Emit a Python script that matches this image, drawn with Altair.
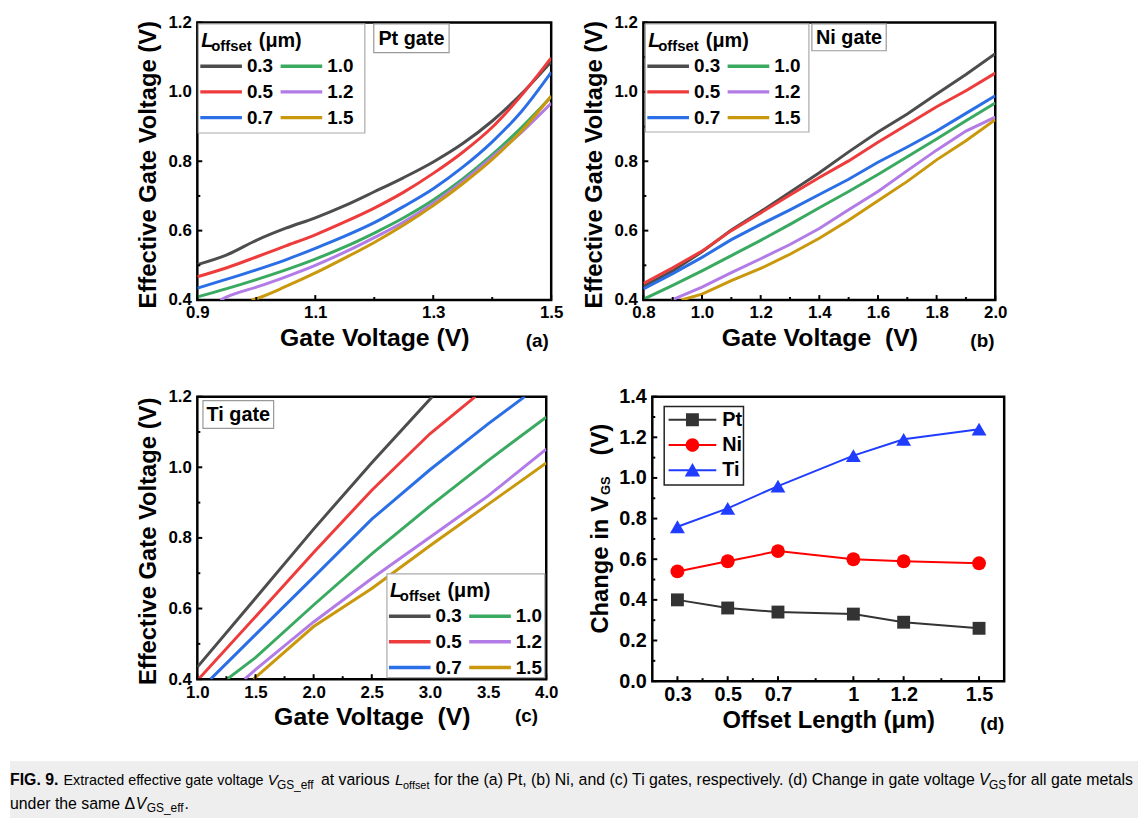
import altair as alt
import pandas as pd

FONT = "Liberation Sans"
CAP_FONT = "Liberation Sans"

# ---------------- data ----------------
L_VALUES = ["0.3", "0.5", "0.7", "1.0", "1.2", "1.5"]
L_COLORS = ["#4d4d4d", "#ee3b3b", "#2b6fe6", "#3aaa60", "#b27be6", "#c9980c"]
Y_MAJOR = [0.4, 0.6, 0.8, 1.0, 1.2]
Y_MINOR = [0.5, 0.7, 0.9, 1.1]

# (a) Pt gate
PT_TICKS = [0.9, 1.1, 1.3, 1.5]
PT_MINOR = [1.0, 1.2, 1.4]
PT_VG = [0.90, 0.95, 1.00, 1.05, 1.10, 1.15, 1.20, 1.25, 1.30, 1.35, 1.40, 1.45, 1.50]
PT_03 = [0.502, 0.530, 0.572, 0.607, 0.637, 0.672, 0.712, 0.753, 0.798, 0.851, 0.916, 0.995, 1.087]
PT_05 = [0.467, 0.493, 0.524, 0.556, 0.588, 0.625, 0.665, 0.711, 0.765, 0.826, 0.898, 0.991, 1.098]
PT_07 = [0.434, 0.460, 0.487, 0.516, 0.549, 0.584, 0.623, 0.670, 0.721, 0.783, 0.856, 0.944, 1.056]
PT_10 = [0.409, 0.433, 0.459, 0.487, 0.518, 0.553, 0.593, 0.637, 0.688, 0.749, 0.819, 0.898, 0.986]
PT_VG_12 = [0.939, 0.95, 1.00, 1.05, 1.10, 1.15, 1.20, 1.25, 1.30, 1.35, 1.40, 1.45, 1.50]
PT_12 = [0.400, 0.409, 0.437, 0.467, 0.500, 0.538, 0.580, 0.625, 0.679, 0.742, 0.812, 0.884, 0.967]
PT_VG_15 = [0.992, 1.00, 1.05, 1.10, 1.15, 1.20, 1.25, 1.30, 1.35, 1.40, 1.45, 1.50]
PT_15 = [0.400, 0.404, 0.439, 0.478, 0.521, 0.566, 0.616, 0.672, 0.735, 0.805, 0.888, 0.988]

# (b) Ni gate
NI_TICKS = [0.8, 1.0, 1.2, 1.4, 1.6, 1.8, 2.0]
NI_MINOR = [0.9, 1.1, 1.3, 1.5, 1.7, 1.9]
NI_VG = [0.8, 0.9, 1.0, 1.1, 1.2, 1.3, 1.4, 1.5, 1.6, 1.7, 1.8, 1.9, 2.0]
NI_03 = [0.439, 0.484, 0.539, 0.602, 0.655, 0.711, 0.767, 0.827, 0.884, 0.936, 0.994, 1.050, 1.110]
NI_05 = [0.448, 0.493, 0.541, 0.600, 0.651, 0.703, 0.753, 0.801, 0.855, 0.906, 0.957, 1.003, 1.054]
NI_07 = [0.432, 0.476, 0.523, 0.574, 0.618, 0.660, 0.704, 0.748, 0.797, 0.841, 0.887, 0.938, 0.989]
NI_10 = [0.402, 0.442, 0.484, 0.528, 0.572, 0.618, 0.666, 0.713, 0.762, 0.813, 0.864, 0.917, 0.968]
NI_VG_12 = [0.896, 1.0, 1.1, 1.2, 1.3, 1.4, 1.5, 1.6, 1.7, 1.8, 1.9, 2.0]
NI_12 = [0.400, 0.437, 0.479, 0.519, 0.560, 0.606, 0.660, 0.713, 0.773, 0.832, 0.887, 0.927]
NI_VG_15 = [0.930, 1.0, 1.1, 1.2, 1.3, 1.4, 1.5, 1.6, 1.7, 1.8, 1.9, 2.0]
NI_15 = [0.400, 0.417, 0.456, 0.491, 0.532, 0.578, 0.630, 0.686, 0.742, 0.804, 0.859, 0.920]

# (c) Ti gate
TI_TICKS = [1.0, 1.5, 2.0, 2.5, 3.0, 3.5, 4.0]
TI_MINOR = [1.25, 1.75, 2.25, 2.75, 3.25, 3.75]
TI_VG_03 = [1.0, 1.5, 2.0, 2.5, 3.02]
TI_03 = [0.434, 0.629, 0.825, 1.013, 1.200]
TI_VG_05 = [1.01, 1.5, 2.0, 2.5, 3.0, 3.39]
TI_05 = [0.400, 0.577, 0.759, 0.935, 1.095, 1.200]
TI_VG_07 = [1.114, 1.5, 2.0, 2.5, 3.0, 3.5, 3.815]
TI_07 = [0.400, 0.526, 0.689, 0.853, 0.993, 1.123, 1.200]
TI_VG_10 = [1.256, 1.5, 2.0, 2.5, 3.0, 3.5, 4.0]
TI_10 = [0.400, 0.461, 0.610, 0.755, 0.890, 1.019, 1.142]
TI_VG_12 = [1.407, 1.5, 2.0, 2.5, 3.0, 3.5, 4.0]
TI_12 = [0.400, 0.427, 0.562, 0.685, 0.802, 0.919, 1.051]
TI_VG_15 = [1.483, 2.0, 2.5, 3.0, 3.5, 4.0]
TI_15 = [0.400, 0.549, 0.657, 0.778, 0.895, 1.012]

# (d) change in V_GS
METALS = ["Pt", "Ni", "Ti"]
METAL_COLORS = ["#333333", "#ff0000", "#1f3cff"]
OFFSET = [0.3, 0.5, 0.7, 1.0, 1.2, 1.5]
OFFSET_MINOR = [0.4, 0.6, 0.85, 1.1, 1.35]
D_PT = [0.40, 0.36, 0.34, 0.33, 0.29, 0.26]
D_NI = [0.54, 0.59, 0.64, 0.60, 0.59, 0.58]
D_TI = [0.76, 0.85, 0.96, 1.11, 1.19, 1.24]
D_Y_MAJOR = [0.0, 0.2, 0.4, 0.6, 0.8, 1.0, 1.2, 1.4]
D_Y_MINOR = [0.1, 0.3, 0.5, 0.7, 0.9, 1.1, 1.3]

# ---------------- helpers ----------------
ONE = pd.DataFrame({"k": [0]})
AX = dict(domain=False, ticks=False, grid=False, labelFont=FONT, labelFontWeight="bold",
          labelColor="black", titleFont=FONT, titleFontWeight="bold", titleColor="black",
          labelFlush=False, labelOverlap=False)


def series_frame(pairs, xname, yname, cname):
    rows = []
    for lab, xs, ys in pairs:
        for x, y in zip(xs, ys):
            rows.append({xname: x, yname: y, cname: lab})
    return pd.DataFrame(rows)


def txt(s, x, y, size, weight="bold", style="normal", align="left", baseline="alphabetic",
        font=FONT, angle=None, color="black"):
    kw = dict(font=font, fontSize=size, fontWeight=weight, fontStyle=style, align=align,
              baseline=baseline, color=color)
    if angle is not None:
        kw["angle"] = angle
    return alt.Chart(ONE).mark_text(**kw).encode(x=alt.value(x), y=alt.value(y), text=alt.value(s))


def rect(x, y, w, h, fill="white", stroke="#aaaaaa", sw=1.2):
    return alt.Chart(ONE).mark_rect(fill=fill, stroke=stroke, strokeWidth=sw).encode(
        x=alt.value(x), x2=alt.value(x + w), y=alt.value(y), y2=alt.value(y + h))


def anchor(L, T, W, H, R, B):
    # invisible rectangle that fixes the layout extent of a panel
    return alt.Chart(ONE).mark_rect(fill="transparent", stroke="transparent", strokeWidth=0).encode(
        x=alt.value(-L), x2=alt.value(W + R), y=alt.value(-T), y2=alt.value(H + B))


def tick_layers(xs, ys, xaxis, yaxis, xmaj, xmin, ymaj, ymin, H, big=5, small=3):
    out = []
    for vals, ln in ((xmaj, big), (xmin, small)):
        out.append(alt.Chart(pd.DataFrame({"v": vals})).mark_rule(color="black", strokeWidth=2).encode(
            x=alt.X("v:Q", scale=xs, axis=xaxis), y=alt.value(H), y2=alt.value(H - ln)))
    for vals, ln in ((ymaj, big), (ymin, small)):
        out.append(alt.Chart(pd.DataFrame({"v": vals})).mark_rule(color="black", strokeWidth=2).encode(
            y=alt.Y("v:Q", scale=ys, axis=yaxis), x=alt.value(0), x2=alt.value(ln)))
    return out


def curve_panel(df, xdom, xmaj, xmin, W, H, xtitle, lbox, gbox, gate, tag, tag_xy, interp, ext):
    xs = alt.Scale(domain=xdom, nice=False, zero=False)
    ys = alt.Scale(domain=[0.4, 1.2], nice=False, zero=False)
    xaxis = alt.Axis(values=xmaj, format=".1f", title=xtitle, labelFontSize=17, titleFontSize=25,
                     labelPadding=5, titlePadding=5, **AX)
    yaxis = alt.Axis(values=Y_MAJOR, format=".1f", title="Effective Gate Voltage (V)", labelFontSize=17,
                     titleFontSize=24, labelPadding=6, titlePadding=8, titleY=H / 2 + 3, **AX)
    bx, by, bw, bh = lbox
    legend = alt.Legend(orient="none", legendX=bx + 10.5, legendY=by + 30, columns=2, title=None,
                        symbolType="M-2,0H2", symbolSize=441, symbolStrokeWidth=3.5, labelFont=FONT,
                        labelFontSize=19, labelFontWeight="bold", labelColor="black", labelOffset=13.5,
                        rowPadding=3, columnPadding=0, padding=0, symbolOpacity=1)
    lines = alt.Chart(df).mark_line(strokeWidth=3, clip=True, interpolate=interp).encode(
        x=alt.X("vg:Q", scale=xs, axis=xaxis),
        y=alt.Y("veff:Q", scale=ys, axis=yaxis),
        color=alt.Color("L:N", scale=alt.Scale(domain=L_VALUES, range=L_COLORS), legend=legend),
        order=alt.Order("vg:Q"),
    )
    gx, gy, gw, gh = gbox
    L, T, R, B = ext
    layers = [anchor(L, T, W, H, R, B), lines] + tick_layers(
        xs, ys, xaxis, yaxis, xmaj, xmin, Y_MAJOR, Y_MINOR, H) + [
        rect(bx, by, bw, bh),
        txt("L", bx + 3, by + 23.5, 20, style="italic"),
        txt("offset", bx + 13, by + 27, 15),
        txt("(\u03bcm)", bx + 61, by + 23.5, 20),
        rect(gx, gy, gw, gh, stroke="#999999", sw=1.2),
        txt(gate, gx + gw / 2, gy + gh / 2 + 1, 20, align="center", baseline="middle"),
        txt(tag, tag_xy[0], tag_xy[1], 19, align="center", baseline="middle"),
    ]
    return alt.layer(*layers).properties(
        width=W, height=H, view=alt.ViewBackground(stroke="black", strokeWidth=2.5))


# ---------------- panels a-c ----------------
df_a = series_frame([("0.3", PT_VG, PT_03), ("0.5", PT_VG, PT_05), ("0.7", PT_VG, PT_07),
                     ("1.0", PT_VG, PT_10), ("1.2", PT_VG_12, PT_12), ("1.5", PT_VG_15, PT_15)],
                    "vg", "veff", "L")
df_b = series_frame([("0.3", NI_VG, NI_03), ("0.5", NI_VG, NI_05), ("0.7", NI_VG, NI_07),
                     ("1.0", NI_VG, NI_10), ("1.2", NI_VG_12, NI_12), ("1.5", NI_VG_15, NI_15)],
                    "vg", "veff", "L")
df_c = series_frame([("0.3", TI_VG_03, TI_03), ("0.5", TI_VG_05, TI_05), ("0.7", TI_VG_07, TI_07),
                     ("1.0", TI_VG_10, TI_10), ("1.2", TI_VG_12, TI_12), ("1.5", TI_VG_15, TI_15)],
                    "vg", "veff", "L")

H1 = 280
pa = curve_panel(df_a, [0.9, 1.5], PT_TICKS, PT_MINOR, 357, H1, "Gate Voltage (V)",
                 (1, 1.5, 168, 110), (178, 1.5, 76, 29), "Pt gate", "(a)", (343, H1 + 41), "monotone",
                 (189, 9.5, 20, 64))
pb = curve_panel(df_b, [0.8, 2.0], NI_TICKS, NI_MINOR, 355, H1, "Gate Voltage\u00a0 (V)",
                 (2, 1.5, 165, 109), (170, 1.5, 75, 27), "Ni gate", "(b)", (342, H1 + 41), "linear",
                 (69, 9.5, 20, 64))
H2c = 285
pc = curve_panel(df_c, [1.0, 4.0], TI_TICKS, TI_MINOR, 352, H2c, "Gate Voltage\u00a0 (V)",
                 (191.3, 178.8, 159.2, 104.7), (5.7, 4, 71.3, 28), "Ti gate", "(c)", (332, H2c + 37),
                 "linear", (189, 11, 20, 62))

# ---------------- panel d ----------------
H2d = 287
df_d = series_frame([("Pt", OFFSET, D_PT), ("Ni", OFFSET, D_NI), ("Ti", OFFSET, D_TI)],
                    "offset", "dv", "metal")
xs_d = alt.Scale(domain=[0.2, 1.6], nice=False, zero=False)
ys_d = alt.Scale(domain=[0.0, 1.4], nice=False, zero=False)
xaxis_d = alt.Axis(values=OFFSET, format="~g", title="Offset Length (\u03bcm)", labelFontSize=20,
                   titleFontSize=24, labelPadding=4, titlePadding=4, **AX)
yaxis_d = alt.Axis(values=D_Y_MAJOR, format=".1f", title=None, labelFontSize=20, labelPadding=6, **AX)
color_d = alt.Scale(domain=METALS, range=METAL_COLORS)

lines_d = alt.Chart(df_d).mark_line(strokeWidth=2).encode(
    x=alt.X("offset:Q", scale=xs_d, axis=xaxis_d),
    y=alt.Y("dv:Q", scale=ys_d, axis=yaxis_d),
    color=alt.Color("metal:N", scale=color_d, legend=None),
)
point_layers = []
for metal, shape, size in (("Pt", "square", 169), ("Ni", "circle", 196), ("Ti", "triangle-up", 225)):
    point_layers.append(
        alt.Chart(df_d).transform_filter(alt.datum.metal == metal).mark_point(
            filled=True, shape=shape, size=size, opacity=1).encode(
            x=alt.X("offset:Q", scale=xs_d, axis=xaxis_d),
            y=alt.Y("dv:Q", scale=ys_d, axis=yaxis_d),
            color=alt.Color("metal:N", scale=color_d, legend=None),
        ))

LEG_PATHS = [
    "M-3.7,-0.15H3.7V0.15H-3.7Z M-1,-1H1V1H-1Z",
    "M-3.7,-0.15H3.7V0.15H-3.7Z M-1.05,0A1.05,1.05,0,1,1,1.05,0A1.05,1.05,0,1,1,-1.05,0Z",
    "M-3.7,-0.15H3.7V0.15H-3.7Z M0,-1.15L1.2,0.95H-1.2Z",
]
leg_d = alt.Legend(orient="none", legendX=30.5, legendY=13.3, title=None, symbolSize=169,
                   symbolStrokeWidth=0, labelFont=FONT, labelFontSize=20, labelFontWeight="bold",
                   labelColor="black", labelOffset=20, rowPadding=5.5, padding=0, symbolOpacity=1)
legend_src = alt.Chart(df_d).transform_filter("false").mark_point(filled=True).encode(
    x=alt.X("offset:Q", scale=xs_d, axis=xaxis_d),
    y=alt.Y("dv:Q", scale=ys_d, axis=yaxis_d),
    fill=alt.Fill("metal:N", scale=alt.Scale(domain=METALS, range=METAL_COLORS), legend=leg_d),
    shape=alt.Shape("metal:N", scale=alt.Scale(domain=METALS, range=LEG_PATHS), legend=leg_d),
)

pd_layers = [anchor(83, 11, 355, H2d, 20, 60), lines_d] + point_layers + tick_layers(
    xs_d, ys_d, xaxis_d, yaxis_d, OFFSET, OFFSET_MINOR, D_Y_MAJOR, D_Y_MINOR, H2d) + [
    rect(12, 10, 80, 79, stroke="#222222", sw=1.5),
    legend_src,
    txt("Change in V", -45, 239, 24, angle=270),
    txt("GS", -42.5, 99.3, 13, angle=270),
    txt("(V)", -45, 59.3, 24, angle=270),
    txt("(d)", 343, H2d + 43.5, 19, align="center", baseline="middle"),
]
pdd = alt.layer(*pd_layers).resolve_scale(shape="independent", fill="independent").properties(
    width=355, height=H2d, view=alt.ViewBackground(stroke="black", strokeWidth=2.5))

# ---------------- caption ----------------
X0 = 197
CAPTION = [
    ("FIG. 9.", 8, 1, "bold", 16),
    ("Extracted effective gate voltage", 62, 1, "normal", 14.5),
    ("V", 268, 1, "italic", 15),
    ("GS_eff", 277.3, 1, "sub", 12),
    ("at various", 321.7, 1, "normal", 16),
    ("L", 396.5, 1, "italic", 15.5),
    ("offset", 404.5, 1, "sub", 11),
    ("for the (a) Pt, (b) Ni, and (c) Ti gates, respectively.", 436, 1, "normal", 16),
    ("(d) Change in gate voltage", 793, 1, "normal", 16),
    ("V", 985.5, 1, "italic", 16),
    ("GS", 995.8, 1, "sub", 12),
    ("for all gate metals", 1014.7, 1, "normal", 16),
    ("under the same \u0394", 8, 2, "normal", 16),
    ("V", 135, 2, "italic", 16),
    ("GS_eff", 146, 2, "sub", 12),
    (".", 184, 2, "normal", 16),
]
cap_layers = [alt.Chart(ONE).mark_rect(fill="#eeeeee").encode(
    x=alt.value(8 - X0), x2=alt.value(1146 - X0), y=alt.value(0), y2=alt.value(58))]
for s, px, line, style, size in CAPTION:
    base_y = 24.7 if line == 1 else 48
    if style == "bold":
        cap_layers.append(txt(s, px - X0, base_y, size, weight="bold", font=CAP_FONT))
    elif style == "italic":
        cap_layers.append(txt(s, px - X0, base_y, size, weight="normal", style="italic", font=CAP_FONT))
    elif style == "sub":
        cap_layers.append(txt(s, px - X0, base_y + 4, size, weight="normal", font=CAP_FONT))
    else:
        cap_layers.append(txt(s, px - X0, base_y, size, weight="normal", font=CAP_FONT))
caption = alt.layer(*cap_layers).properties(
    width=949, height=58, view=alt.ViewBackground(stroke="transparent", strokeWidth=0))

# ---------------- assemble ----------------
IND = dict(color="independent", fill="independent", shape="independent")
row1 = alt.hconcat(pa, pb, spacing=0).resolve_scale(**IND)
row2 = alt.hconcat(pc, pdd, spacing=0).resolve_scale(**IND)
chart = alt.vconcat(row1, row2, caption, spacing=18.5).resolve_scale(**IND).properties(
    padding={"left": 0, "top": 0, "right": 0, "bottom": 0}
).configure_view(strokeWidth=0)

chart.save("out.html", embed_options={"renderer": "svg", "actions": False})
